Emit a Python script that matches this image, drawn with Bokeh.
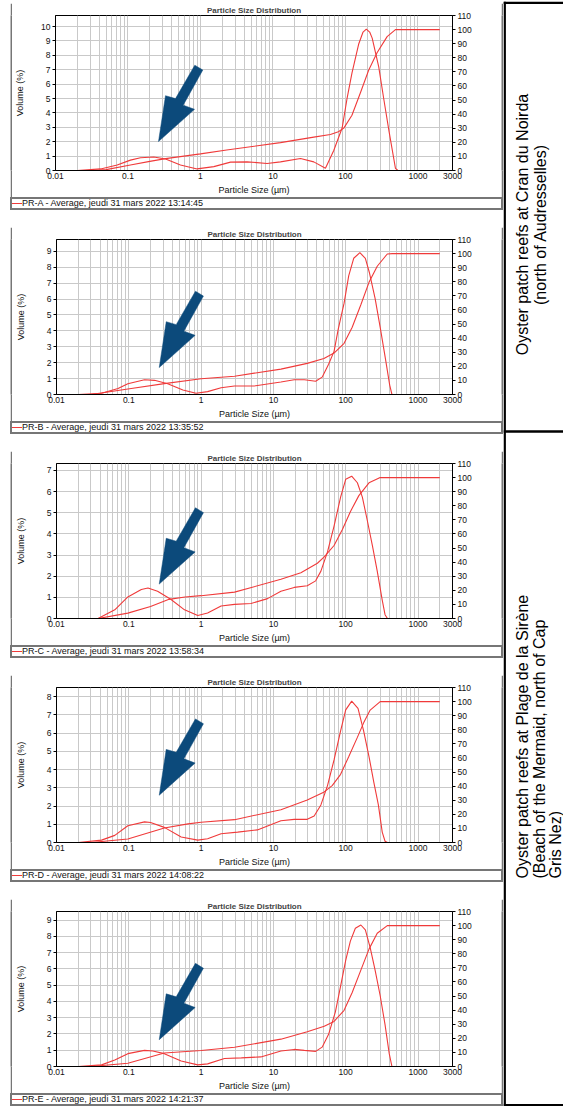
import math
from bokeh.plotting import figure
from bokeh.layouts import column, row
from bokeh.models import Range1d, LinearAxis, FixedTicker, CustomJSTickFormatter, Spacer, Div
from bokeh.core.properties import value
from bokeh.embed import file_html
from bokeh.resources import INLINE

# ---------------- data ----------------
legend_labels = [
    "PR-A - Average, jeudi 31 mars 2022 13:14:45",
    "PR-B - Average, jeudi 31 mars 2022 13:35:52",
    "PR-C - Average, jeudi 31 mars 2022 13:58:34",
    "PR-D - Average, jeudi 31 mars 2022 14:08:22",
    "PR-E - Average, jeudi 31 mars 2022 14:21:37",
]
y_max = [10.77, 9.74, 7.33, 8.5, 9.53]
y_top_tick = [10, 9, 7, 8, 9]
right_ticks = [0, 10, 20, 30, 40, 50, 60, 70, 80, 90, 100, 110]
x_ticks = [0.01, 0.1, 1, 10, 100, 1000, 3000]
x_minor = [0.02, 0.03, 0.04, 0.05, 0.06, 0.07, 0.08, 0.09,
           0.2, 0.3, 0.4, 0.5, 0.6, 0.7, 0.8, 0.9,
           2, 3, 4, 5, 6, 7, 8, 9,
           20, 30, 40, 50, 60, 70, 80, 90,
           200, 300, 400, 500, 600, 700, 800, 900, 2000]

# Panel A
xA_d = [0.02, 0.042, 0.071, 0.108, 0.149, 0.227, 0.33, 0.53, 0.9, 1.53, 2.6, 4.4, 8.3, 12.7,
        24, 36.6, 53, 69, 90, 105, 123, 152, 175, 194, 216, 234, 288, 338, 399, 490, 530]
vA_d = [0, 0.11, 0.38, 0.72, 0.89, 0.94, 0.8, 0.38, 0.11, 0.27, 0.58, 0.6, 0.49, 0.6,
        0.83, 0.6, 0.15, 1.39, 2.95, 4.97, 6.76, 8.77, 9.62, 9.82, 9.62, 9.2, 7.2, 4.97, 2.73, 0.15, 0]
xA_c = [0.02, 0.03, 0.05, 0.108, 0.2, 0.33, 1.0, 2.3, 12.7, 36.6, 62, 80, 95, 123, 161, 209, 273, 376, 490, 2000]
vA_c = [0, 0, 0.6, 3.9, 6.5, 8.4, 11.8, 14.6, 19.8, 23.7, 25.5, 27.5, 30.1, 39.2, 55.2, 71.1, 83.6, 95, 100, 100]

# Panel B
xB_d = [0.02, 0.042, 0.071, 0.097, 0.165, 0.227, 0.345, 0.56, 0.85, 1.23, 1.89, 2.9, 5.4, 12.7,
        19.4, 26.8, 38.4, 47.2, 58, 69, 79, 95, 110, 129, 157, 187, 213, 255, 300, 350, 406, 436]
vB_d = [0, 0.08, 0.38, 0.68, 0.93, 0.89, 0.68, 0.28, 0.08, 0.18, 0.42, 0.53, 0.53, 0.79,
        0.93, 0.93, 0.83, 1.09, 1.9, 2.71, 4.12, 5.74, 7.45, 8.56, 8.91, 8.56, 7.65, 6.04, 4.22, 2.4, 0.59, 0]
xB_c = [0.02, 0.03, 0.108, 0.31, 1.0, 2.9, 12.7, 29.4, 50, 69, 95, 123, 162, 210, 273, 376, 440, 2000]
vB_c = [0, 0, 4.3, 7.7, 11.2, 13, 18, 22.1, 25.5, 29.4, 36.3, 47.7, 63.7, 79.6, 91, 99.7, 100, 100]

# Panel C
xC_d = [0.02, 0.0376, 0.064, 0.097, 0.149, 0.184, 0.25, 0.38, 0.59, 0.9, 1.23, 1.89, 2.9, 4.9, 8.3, 12.7,
        19.4, 29.4, 38.4, 45.4, 56, 69, 85, 100, 121, 145, 170, 198, 234, 273, 320, 350, 378]
vC_d = [0, 0, 0.41, 1.02, 1.37, 1.44, 1.29, 0.91, 0.41, 0.14, 0.26, 0.59, 0.67, 0.71, 0.94, 1.29,
        1.47, 1.55, 1.78, 2.24, 3.15, 4.37, 5.74, 6.58, 6.73, 6.42, 5.74, 4.67, 3.45, 2.24, 0.87, 0.18, 0]
xC_c = [0.02, 0.0376, 0.097, 0.2, 0.36, 0.6, 1.0, 2.9, 12.7, 24, 40.6, 50.5, 69, 90, 116, 152, 210, 300, 2000]
vC_c = [0, 0, 3.8, 8.5, 13.6, 15.3, 16.2, 18.7, 27.8, 32.4, 39.2, 43.8, 51.8, 63.2, 75.8, 87.2, 96.3, 100, 100]

# Panel D
xD_d = [0.02, 0.042, 0.064, 0.097, 0.165, 0.2, 0.31, 0.53, 0.9, 1.23, 1.89, 3.2, 6.0, 12.7,
        19.4, 29.4, 36.6, 45.4, 56, 69, 85, 100, 121, 148, 177, 210, 245, 283, 320, 350, 378]
vD_d = [0, 0.13, 0.39, 0.92, 1.13, 1.1, 0.83, 0.3, 0.13, 0.21, 0.48, 0.57, 0.69, 1.19,
        1.27, 1.27, 1.45, 2.06, 3.12, 4.53, 6.12, 7.27, 7.75, 7.35, 6.12, 4.71, 3.3, 2.06, 0.57, 0.07, 0]
xD_c = [0.02, 0.03, 0.097, 0.31, 0.66, 1.0, 2.9, 12.7, 29.4, 50.5, 65, 85, 110, 145, 177, 218, 300, 2000]
vD_c = [0, 0, 2.5, 10.3, 13.2, 14.4, 16.2, 23.3, 30.1, 35.9, 40.4, 48.4, 60.9, 74.6, 84.9, 94, 100, 100]

# Panel E
xE_d = [0.02, 0.042, 0.064, 0.097, 0.165, 0.215, 0.31, 0.53, 0.9, 1.23, 2.1, 3.6, 6.7, 12.7,
        19.4, 26.8, 38.4, 47.2, 58, 72, 85, 100, 116, 136, 162, 187, 218, 255, 300, 350, 400, 436]
vE_d = [0, 0.1, 0.4, 0.79, 0.99, 0.95, 0.79, 0.34, 0.1, 0.16, 0.49, 0.53, 0.59, 0.95,
        1.05, 0.99, 0.93, 1.19, 1.98, 3.36, 4.94, 6.52, 7.71, 8.5, 8.7, 8.4, 7.31, 5.93, 4.35, 2.57, 0.79, 0]
xE_c = [0.02, 0.03, 0.097, 0.31, 1.0, 2.9, 12.7, 29.4, 50.5, 69, 95, 123, 162, 210, 273, 376, 2000]
vE_c = [0, 0, 2.3, 9.6, 11.4, 13.7, 19.4, 24.6, 28.5, 32, 39.9, 52.5, 68.4, 83.3, 94.6, 100, 100]

series = [(xA_d, vA_d, xA_c, vA_c), (xB_d, vB_d, xB_c, vB_c), (xC_d, vC_d, xC_c, vC_c),
          (xD_d, vD_d, xD_c, vD_c), (xE_d, vE_d, xE_c, vE_c)]

# annotation arrows: tip height as fraction of plot height
arrow_tip_frac = [0.187, 0.174, 0.222, 0.305, 0.173]

site_1 = ["Oyster patch reefs at Cran du Noirda", "(north of Audresselles)"]
site_2 = ["Oyster patch reefs at Plage de la Sirène", "(Beach of the Mermaid, north of Cap", "Gris Nez)"]

# ---------------- style ----------------
FONT = "Liberation Sans"
RED = "#f03a3a"
NAVY = "#0c4a7b"
GRID = "#c9c9c9"
FRAME = "#767676"
SW = 2                      # panel frame stroke
WC = 489                    # chart canvas width
WP = WC + 2 * SW            # panel width
LB, RB, TB = 43, 49, 9
FH = 159
BB = 26
HC = TB + FH + BB
FW = WC - LB - RB
LEG_H = 13
GAP = 15
SPAN = math.log10(3000 / 0.01)

# arrow outline in pixels relative to the tip (dx right, dy up)
AR_DX = [0, 7, 17, 36.3, 44.3, 24.7, 36]
AR_DY = [0, 47, 44, 78.3, 73.3, 37.3, 33]
AR_TIP_X = 103


def px_to_x(px):
    return 10 ** (-2 + px / FW * SPAN)


def strip(w, h, color):
    f = figure(width=w, height=h, toolbar_location=None, output_backend="svg", min_border=0,
               x_axis_location=None, y_axis_location=None, x_range=Range1d(0, 1), y_range=Range1d(0, 1))
    f.border_fill_color = color
    f.background_fill_color = color
    f.outline_line_color = None
    f.grid.visible = False
    return f


def legend_div(label):
    html = ('<div style="box-sizing:border-box;width:%dpx;height:%dpx;border:%dpx solid %s;'
            'font-family:\'Liberation Sans\',Arial,sans-serif;font-size:9px;color:#111111;'
            'line-height:%dpx;white-space:nowrap;overflow:hidden;padding:0;margin:0;background:#ffffff;">'
            '<span style="display:inline-block;width:10px;height:0;border-top:1.2px solid %s;'
            'vertical-align:middle;margin:0;padding:0;"></span>%s</div>'
            % (WP, LEG_H, SW, FRAME, LEG_H - 2 * SW, RED, label))
    return Div(text=html, width=WP, height=LEG_H, margin=0)


def make_chart(i):
    xd, vd, xc, vc = series[i]
    ym = y_max[i]
    p = figure(width=WC, height=HC, x_axis_type="log", x_range=Range1d(0.01, 3000),
               y_range=Range1d(0, ym), output_backend="svg", toolbar_location=None,
               min_border_left=LB, min_border_right=RB, min_border_top=TB, min_border_bottom=BB,
               title="Particle Size Distribution")
    p.title.text_font = FONT
    p.title.text_font_size = "8px"
    p.title.text_font_style = "bold"
    p.title.align = "center"
    p.title.standoff = 1
    p.title.offset = 4
    p.extra_y_ranges = {"cum": Range1d(0, 110)}
    p.add_layout(LinearAxis(y_range_name="cum", ticker=FixedTicker(ticks=right_ticks)), "right")

    p.xaxis.ticker = FixedTicker(ticks=x_ticks, minor_ticks=x_minor)
    p.xaxis.formatter = CustomJSTickFormatter(code="return String(Number(tick.toPrecision(6)));")
    p.yaxis[0].ticker = FixedTicker(ticks=list(range(y_top_tick[i] + 1)))

    for ax in p.axis:
        ax.major_label_text_font = FONT
        ax.major_label_text_font_size = "8.5px"
        ax.major_label_text_color = "#111111"
        ax.axis_line_color = "black"
        ax.major_tick_line_color = "black"
        ax.minor_tick_out = 0
        ax.minor_tick_in = 0
        ax.major_tick_in = 0
        ax.major_tick_out = 3
        ax.major_label_standoff = 2
        ax.axis_label_text_font = FONT
        ax.axis_label_text_font_size = "9px"
        ax.axis_label_text_font_style = "normal"
        ax.axis_label_text_color = "#111111"
    p.xaxis.major_tick_out = 0
    p.xaxis.axis_label = "Particle Size (µm)"
    p.xaxis.axis_label_standoff = 3
    p.yaxis[0].axis_label = "Volume (%)"
    p.yaxis[0].axis_label_standoff = 13 if y_top_tick[i] >= 10 else 18

    p.xgrid.grid_line_color = GRID
    p.xgrid.minor_grid_line_color = GRID
    p.ygrid.grid_line_color = GRID
    p.outline_line_color = "black"
    p.outline_line_width = 1

    p.line(xd, vd, line_color=RED, line_width=1.1)
    p.line(xc, vc, line_color=RED, line_width=1.1, y_range_name="cum")

    # annotation arrow
    tip_up = arrow_tip_frac[i] * FH
    axs = [px_to_x(AR_TIP_X + dx) for dx in AR_DX]
    ays = [(tip_up + dy) / FH * ym for dy in AR_DY]
    p.patch(axs, ays, fill_color=NAVY, line_color=NAVY, line_width=0.5)
    return p


def make_panel(i):
    chart = make_chart(i)
    mid = row(strip(SW, HC, FRAME), chart, strip(SW, HC, FRAME), spacing=0)
    return column(strip(WP, SW, FRAME), mid, legend_div(legend_labels[i]), spacing=0)


panels = [make_panel(i) for i in range(5)]
left = column(*panels, spacing=GAP)

PANEL_H = SW + HC + LEG_H
TOTAL_H = 5 * PANEL_H + 4 * GAP
LW = 60
lab = figure(width=LW, height=TOTAL_H, x_range=Range1d(0, LW), y_range=Range1d(0, TOTAL_H),
             x_axis_location=None, y_axis_location=None, min_border=0,
             output_backend="svg", toolbar_location=None)
lab.grid.visible = False
lab.outline_line_color = None
sep_y = TOTAL_H - 430
lab.segment(x0=[1.2, 0, 0, 0], y0=[0, TOTAL_H - 1.2, sep_y, 1.2], x1=[1.2, LW, LW, LW],
            y1=[TOTAL_H, TOTAL_H - 1.2, sep_y, 1.2], line_color="black", line_width=2.4)
lab.text([19, 37], [TOTAL_H - 223, TOTAL_H - 223], text=site_1, angle=math.pi / 2,
         text_align="center", text_baseline="middle", text_font=value(FONT),
         text_font_size="16px", text_color="black")
lab.text([19, 36, 52], [TOTAL_H - 877, TOTAL_H - 877, TOTAL_H - 877], text=site_2, angle=math.pi / 2,
         text_align="left", text_baseline="middle", text_font=value(FONT),
         text_font_size="16px", text_color="black")

body = row(Spacer(width=10, height=TOTAL_H), left, lab, spacing=0)
layout = column(Spacer(width=10, height=1), body, spacing=0)
open("out.html", "w").write(file_html(layout, INLINE, "Particle Size Distribution"))
